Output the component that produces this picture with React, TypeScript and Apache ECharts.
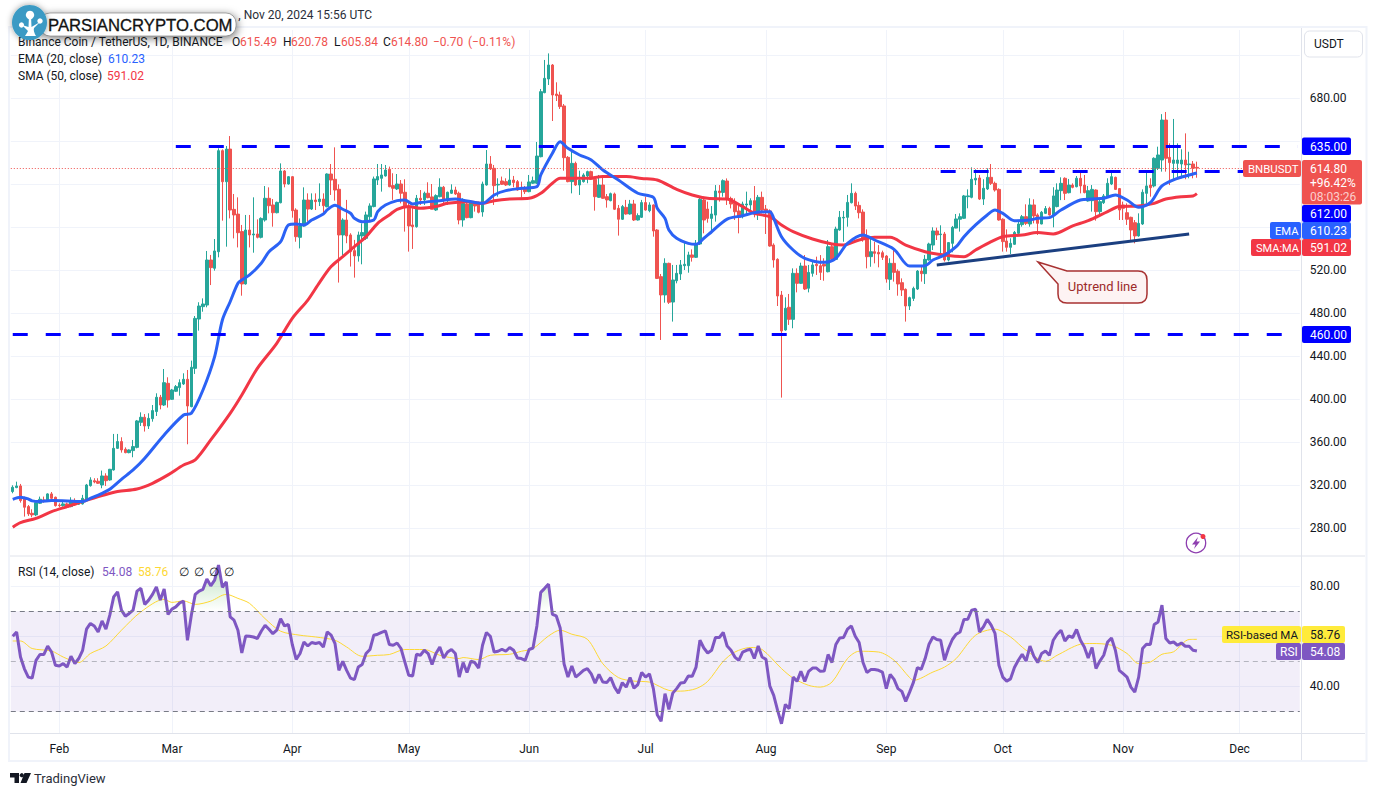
import React, { useEffect, useRef } from "react";
import * as echarts from "echarts";

const monthNames = ["Feb","Mar","Apr","May","Jun","Jul","Aug","Sep","Oct","Nov","Dec"];
const monthStarts = [12,41,72,102,133,163,194,225,255,286,316];
const dayCount = 332;

// [open, close, low, high]
const ohlc: number[][] = [
[313.9,317.9,312.3,319.7],[317.6,319.1,317,323.1],[319.1,305.5,303.6,321],[307.6,299.3,290.6,309.2],[299.9,293.1,291.2,301.4],[293.7,292.2,290,297.4],[292.2,303.6,291,304],[303,306.7,302.4,309.2],[306.1,305.2,303.6,309.2],[305.2,311.7,304.9,312.3],
[311.7,307.6,307,313.5],[308.6,300.8,299.9,309.2],[301.4,300.8,299.3,303],[300.8,302.4,299.9,305.5],[302.4,299.3,298.4,303.6],[299.9,305.5,299.3,308.6],[305.2,301.4,300.5,307.6],[302,303.6,301.4,305.2],[302.4,307.6,301.8,310.8],[306.7,320,306.1,321],
[319.4,324.7,318.5,327.2],[324,322.8,321.6,326.3],[323.5,321.6,321,326.3],[320,328.4,317,333.4],[328.4,324,319.1,330.9],[324.7,334.6,324,335],[334,354.1,333.4,367.5],[354.1,360.4,353.5,367.5],[360.4,352.6,350.1,364.4],[353.2,350.1,349.5,355],
[350.1,352.6,349.5,353.2],[352,355.7,345.8,361.9],[355,379.6,354.1,380.5],[378.3,383,374.9,387.6],[383,374.9,369.7,386],[374.9,382,372.1,386.7],[381.7,389.2,378.9,394.4],[388.3,401.6,384.2,405.3],[401.6,394.4,390.4,403.8],[394.4,415.2,393.5,427.9],
[414.6,399.1,392,420.2],[399.7,408.4,399.1,409.4],[407.2,411.5,406.5,413],[410.6,415.2,403.1,418.3],[414,418.3,413,423.9],[418.3,393.5,357.9,427],[392.9,429.5,392.3,435.7],[428.5,475,423.3,477.2],[474.4,486.5,463.6,490],[485.9,488.4,481.2,493.6],
[487.4,529.3,485.3,537.7],[529.3,522.2,506,534],[521.6,537.7,519.4,548.8],[537,631,531.8,633.2],[631,602.1,565.9,632.2],[602.1,632.5,541.7,635.3],[632.5,575.8,568,644.6],[576.4,571.2,549.4,590.7],[572,554.7,541,587.6],[555.7,507,496.1,561.9],
[507,557.2,506.4,571.2],[557.2,552.6,541,571.2],[552.6,553.5,536.1,587.6],[553.5,550.4,549.4,567.1],[550.4,568,549.4,569],[566.5,586.7,565,598.1],[586.7,579.8,572.7,596.9],[580.5,573.3,560.3,586],[573.3,582.9,572.7,583.6],[582.6,612.1,582,619.2],
[612.1,600,596.9,613],[600,606.8,599.4,607.4],[606.8,575.2,568.7,607.4],[575.8,551,546.3,577.4],[550.4,560.9,540.1,568],[560.9,585.1,560.3,596.9],[585.1,576.7,565,591.3],[576.7,585.1,575.8,591.3],[585.1,583.6,575.8,591.3],[583.6,586,579.5,600.6],
[586,579.8,571.2,591.3],[578.9,609.3,578.3,609.9],[609.3,603.7,589.8,618.6],[604.4,594.4,584.5,634.1],[595.1,552.6,508.3,599.7],[552.6,566.5,534,568.1],[566.5,551.7,544.9,585.2],[552.6,537.1,523.2,554.2],[538,533.1,512.9,548],[533.1,552.6,527.8,555.7],
[551.7,554.8,525.3,563.4],[549.5,571.2,548,574.3],[569.6,579.6,565,582],[579,604.7,578.3,606.9],[603.7,606.9,599.1,618.6],[605.3,608.4,592.9,618.6],[607.5,613,606.9,617.7],[613.7,597.5,597,616.2],[598.5,596,585.2,610],[595.4,600,594.4,609.3],
[600,591.4,582,603.7],[592.3,579,555.7,604.4],[579,561,537.1,583],[561.9,560.3,539.6,579],[560.3,586.7,559.4,589.8],[586.7,585.2,580.5,594.4],[585.2,591.4,580.5,592.9],[591.4,587.3,586.7,601.6],[588,576.5,576.5,600],[575.8,589.2,574.9,590.4],
[588.2,597,587.6,605.3],[597,585.2,582,598.2],[584.5,592.3,580.5,592.9],[591.4,594.4,590.7,599.7],[594.4,590.7,589.8,597.5],[591.4,566.5,562.5,592.9],[566.5,582,560.3,586.7],[581.4,568.7,568.1,584.5],[568.7,583.6,568.1,584.5],[582,579.6,574.3,583.6],
[581.4,573.7,572.7,583.6],[574,600,569.6,602.2],[599.1,618.6,598.5,631.6],[618.6,614,613,626],[614.6,598.5,580.5,617.7],[599.1,599.7,588.2,605.3],[602.8,599.7,599.1,606.9],[602.2,599.1,598.2,605.3],[599.1,603.7,598.5,614],[603.7,601.3,597,607.5],
[602.2,594.4,593.8,603.7],[596,595.1,587.3,602.2],[595.4,592.9,590.7,598.2],[592.9,601.9,592.3,608.4],[600.7,603.1,600,606.9],[600.7,626,600,639.1],[625.4,685.9,624.8,688.4],[685,698.3,684.4,715.4],[697.7,710.7,692.1,721.5],[710.7,682.8,658.6,711.6],
[683.7,682.2,677.2,694.6],[682.8,672,669.8,685.9],[672.6,624.5,612.4,674.4],[624.8,602.2,601.6,626],[602.2,619.2,591.3,630],[619.2,599.1,598.2,620.8],[599.1,603.7,589.8,612.4],[602.2,608.4,601.3,610],[607.5,611.5,600.7,612.4],[611.5,604.4,603.7,612.4],
[604.4,588.2,575.2,606.9],[587.6,599.1,587,608.4],[599.1,586.7,586.1,607.5],[588.2,585.2,578,590.7],[584.5,591,583.9,592],[590.7,576.5,575.8,592],[577.4,567.2,552,580.5],[567.2,579,566.5,580.5],[578.3,572.1,571.5,585.2],[572.1,581.4,571.5,585.2],
[581.4,566.5,565.6,585.2],[566.5,570.6,566,572.7],[569,582.7,568.4,585.2],[582.7,575.8,575.2,588.2],[575.2,580.5,573.7,583],[580.5,556.3,551,581],[557.2,512.2,511.6,558],[513.8,496.8,454.9,516.3],[496.8,526.2,489.6,530.9],[526.2,490,488.4,526.8],
[490.2,510.7,472,524.7],[510,516.9,507.6,524.7],[516.3,524.7,510.7,529.3],[524,525.3,520,545.4],[524,534,517.5,537],[534,531.8,527.8,539.2],[531.8,544.8,531.2,547.9],[544.2,585.7,543.3,588.2],[585.1,566.5,554.1,588.2],[576.7,568,564,583.6],
[568,572.1,554.1,579.5],[571.1,593.5,565,599],[593.5,591.9,583.6,599],[592.2,603.1,588.2,604.3],[602.8,585.7,580.5,605.2],[586.6,581.4,577.3,588.2],[582,574.2,566.5,586.7],[574.9,569,554.1,580.5],[569.6,581.4,568,583.6],[580.5,581.4,571.2,592.9],
[580.5,584.5,574.2,586.7],[584.5,572.7,569,598.1],[572.7,587.6,566.5,589.8],[587.6,575.8,572.7,592.9],[576.7,575.2,553.5,580.5],[574.9,542.3,541.7,576.4],[543.2,529.3,522.2,544.8],[529.9,495.8,486.5,530.9],[496.7,463.3,401.3,500.5],[464.2,484.4,463.6,494.6],
[485.3,474.1,468.9,497.7],[474.1,516.9,465.8,521.5],[516.9,507.6,499.2,521.5],[507.6,523.7,507,526.8],[523.7,502.3,501.4,533.9],[503,517.8,499.2,524.7],[516.9,524.7,513.8,527.8],[525.3,524,515.4,532.4],[524,517.8,510.7,533.9],[525.3,523.7,510,530.9],
[518.4,541.7,517.8,547.9],[541.7,529.9,528.7,543.2],[529.9,558.1,529.3,560.3],[557.2,569,556.6,574.9],[568.4,569,546.3,574.9],[569,582.9,560.3,589.8],[582.6,591.3,581.9,600.6],[591.3,579.5,575.8,592.9],[580.1,573.3,568,583.6],[573.9,549.4,546.3,576.4],
[550.4,532.4,521.5,557.8],[532.4,537,523,551],[537,535.5,526.2,546.3],[536.4,534.9,522.5,543.2],[536.1,531.8,529.3,538],[533,511.6,508.2,533.9],[511.3,526.2,501.4,530.9],[526.2,517.8,509.2,539.2],[518.8,507,496.1,520.6],[508.2,501.4,495.8,512.2],
[502,486.5,472,502.9],[486.5,494.3,482.8,495.2],[493.6,502.9,491.2,504.5],[502.3,519,501.4,520],[519,516.6,509.2,524.7],[516.6,529.9,507,533.9],[529.3,544.2,528.7,545.4],[543.2,556.3,538.6,559.7],[556.3,552.6,547.9,559.4],[552.9,553.5,535,561.6],
[553.5,529.3,527.8,555.4],[529.3,545.5,528,546],[544.8,559.7,536.5,561],[559,567.5,558.8,572.1],[567.2,569.6,555.7,572.7],[568.1,588.9,567.5,589.8],[588.2,588.9,577.4,595],[587.6,604.4,586.7,615.5],[603.7,605.3,599.1,613.7],[605.6,586,585.1,608.4],
[586,596,580.5,604.4],[595.4,606.2,594.4,614.6],[606.2,600.6,599.1,618.6],[600.6,594.4,592.9,602.2],[595,566.5,565.9,596],[567.2,546.4,537.1,568.1],[547,541.1,537.1,557.8],[541.1,544.8,534.9,549.5],[543.9,555,543.3,556.3],[554.1,562.8,552.6,565],
[562.2,569.6,560.3,571.2],[569.6,563.4,561.9,581.1],[562.8,580.5,560.3,586.7],[580.5,570.3,563.4,585.8],[571.2,563.4,552.6,572.7],[562.8,573.7,562.5,574.9],[572.7,577.1,572.1,579.5],[577.4,571.2,570.6,578.9],[571.2,588.9,559.7,597],[579,594.4,578.3,600.6],
[593.8,600.6,585,606.2],[605.3,591.3,585.1,606.2],[591.9,599,591.3,604.7],[599,596.9,596,600.6],[597.5,605.3,596.9,607.4],[605.3,598.2,591.3,612.4],[599,592,591.3,608.4],[584.2,593.8,583.6,598.2],[584.5,595,574.3,599],[594.4,574.3,565.9,595],
[574.3,583.6,571.2,585.1],[582.6,588.9,581.4,590.7],[588.2,600.6,587.6,605.3],[600,606.8,599,611.5],[606.2,595,594.4,606.8],[595.7,575.8,566.5,596.3],[580.5,577.4,566.5,583.6],[573.3,567.2,561.9,582],[569,557.2,548,569.6],[564,551.7,544.8,566.5],
[551.7,563.4,551,572.7],[562.8,592.3,561.9,595],[591.3,598.2,582,611.5],[599,596.6,588.2,605.3],[598.2,623.9,596.9,624.8],[614.6,627,613,634.7],[622.3,659.5,611.5,665],[659.5,623.9,611.5,667],[624.8,619.9,599,637.8],[619.2,622.3,604.4,660.5],
[619.2,622.3,605.3,637.8],[618.6,622.3,605.3,632.3],[622.3,617.7,604.4,647.1],[618,618.6,605.3,630],[618.6,614.6,605.3,621.4],[615.49,614.8,605.84,620.78],
];

// [day index, value] key points of the moving averages
const ema20: number[][] = [
[0,306.7],[2,308.6],[4,307],[5,305.2],[7,304.6],[10,305.5],[14,305.2],[18,304.6],[20,307.6],[23,312.3],[25,316],[28,325.3],[31,334],[34,344.9],[39,366.6],[44,385.1],[46,386.7],[49,408.4],[52,439.4],[54,473.5],[56,490.5],[58,507.6],[59,510.7],[61,515.4],[64,526.2],[66,537],[69,546.3],[71,561.9],[73,562.8],[75,561.9],[77,566.5],[80,572],
[81,575.9],[83,580.2],[85,576.5],[87,572.8],[88,568.1],[90,565],[93,566.5],[94,574.3],[96,580.5],[99,584.5],[101,585.2],[103,581.4],[105,582.7],[110,584.5],[114,586.1],[117,584.2],[121,582],[124,589.8],[127,593.8],[131,596],[135,597.5],[136,608.4],[139,628.6],[141,639.4],[143,633.2],[146,627],[149,622.4],[152,613],[156,603.7],[161,591.4],[165,587.6],
[166,577.4],[168,568],[169,557.2],[171,549.5],[174,544.8],[176,543.9],[178,549.5],[180,555.6],[184,567.4],[188,570.5],[191,573.3],[195,574.3],[196,568],[198,551],[201,538.6],[204,530.9],[209,527.1],[212,530.9],[215,544.8],[219,552.6],[222,547.9],[227,539.2],[231,523.7],[235,524],
[237,529.3],[240,534],[243,541.7],[245,551],[248,561.9],[251,571.2],[253,575.8],[255,572.7],[258,565.9],[262,566.5],[264,568.1],[267,568.7],[270,575.8],[275,585.1],[278,586],[281,586.7],[284,589.8],[287,585.1],[290,578.3],[293,582.6],[296,598.2],[300,605.3],[304,609.3],[305,610.23],
];
const sma50: number[][] = [
[0,280.7],[2,285],[6,289],[10,295.2],[14,299.9],[18,304.6],[23,310.1],[27,313.9],[32,316.3],[36,321.6],[40,329.4],[44,338.6],[47,343.3],[51,361.9],[56,386.7],[59,403.8],[63,428.5],[68,451.8],[72,475],[76,492],[79,508.3],[82,523.2],[85,532.4],[88,541.7],[91,551],[94,563.4],[97,571.2],[99,576.5],[102,579],[105,577.4],[109,579],[112,582],[117,583.6],[121,582],[124,584.5],[128,586.1],[133,586.7],[136,591.4],[139,600.7],[141,605.3],[145,605.3],[148,605.3],[152,606.9],[158,606.9],[162,605.2],[166,603.7],[171,595],[175,589.8],[179,586.7],[184,586],[188,578.9],[191,572.7],[195,569.6],[198,561.9],[201,555.7],[206,548.8],[211,544.2],[214,543.2],[218,547.9],[222,550.4],[226,550.4],[230,543.2],[235,537],[238,534.9],[245,532.4],[248,538.6],[252,546.4],[255,551],[260,552.6],[264,554.8],[268,553.5],[273,561],[277,565.9],[282,574.3],[285,579],[290,579.6],[294,582],[297,586],[301,588.2],[304,588.9],[305,591.02],
];
const rsi14: number[] = [
60,61.7,51.7,47,43.7,43.3,50.4,52.7,52.7,56.1,53.7,48.4,48.1,49.1,47.7,52,49.1,51.1,54.4,62.8,
65.1,64.1,61.7,66.1,62.8,68.4,75.7,77.7,70.4,68,69.1,70.4,78,79.1,72.7,74.4,76.7,79.7,74.4,78.8,
68.7,70.8,71.7,73.3,74,58.4,68.4,76.7,78,78.7,82.8,80.1,82.4,88.4,79.5,81.7,67.7,66.4,62.4,53.3,
60.1,60,59.7,59.1,62,64.4,62.8,61,62.4,67,64.1,64.7,56.7,50.8,53.1,57.7,56.1,57.5,57.1,57.5,
55.7,61.7,60.4,57.1,46.4,50,46.4,43.3,42.7,47.7,48.7,53.1,54.7,60.4,60.8,61.5,62.1,56.7,56.4,57.3,
55.1,49.7,44.4,44.1,52.8,52.4,54.4,53.1,48.7,53.1,55.7,51.3,53.7,54.7,53.1,43.7,49.5,45.5,50,49.5,
47.3,56.4,61.5,60,53.7,54,54.8,54,55.5,54.4,51.3,51.1,50.4,54.7,55.3,64.1,77.5,79.1,80.8,68.7,
68.1,63.3,49,43.7,48.1,43.7,45,46.4,47.1,45,41.3,44.8,41.7,41.5,43.5,39.7,37.3,41.5,39.7,43.5,
39.3,40.7,45.5,43.7,45,39.1,28.7,26.1,37.1,30.8,37.3,39.1,41.3,41.5,44.1,44,47.7,58.4,55.3,53.3,
54.4,59.5,59.5,61.5,56.1,54.4,51.7,50.4,53.7,54.4,54.8,51.1,56.1,51.7,50.8,40.1,36.4,30.4,25.1,32.8,
31.1,43.7,42,46,42,46,47.3,47.3,46,46.1,52.7,49.5,56.7,59.3,59.5,62.8,64.1,60,57.5,49.5,
45.5,46.7,46.7,46.4,45.7,39.1,44.8,42.8,39.1,38,34,37.7,41.7,47.5,46.8,51.1,56.8,59.7,58.7,58.4,
50.4,55.1,58.7,60.8,61.7,66.7,66.8,70.4,70.8,61.7,63.7,66.7,64.4,61.1,48.4,43.7,42.1,43,47.5,50.4,
52.8,50.1,56.1,52,49.5,53.1,54.1,52.4,58.4,60.8,62.4,58.1,60.1,59.5,62.7,58.4,55.7,51.3,55.5,47.1,
50.1,52.4,57.7,59.3,54.4,46.4,45.1,43.7,39.7,37.7,43.7,55.1,56.8,56.7,64.7,65.7,72.4,59.1,57.3,57.7,
56.4,57.3,56,56,54.4,54.08,
];
const rsiMa: number[][] = [
[0,58.1],[2,58.1],[5,55.1],[10,54.1],[13,51.7],[17,49.5],[20,53.1],[24,56.1],[28,62.4],[33,69.7],[39,74.7],[41,73.5],[44,74.1],[47,72.7],[51,74],[55,76.7],[58,75.1],[61,73.1],[65,67],[69,62],[74,60.4],[78,59.7],[83,58.4],[86,55.7],[90,52],[94,52.4],[97,52.7],[101,54.7],[106,54.7],[110,52.4],[115,51.1],[116,51.5],[120,50.7],[123,52.4],[128,52.8],[131,54],[134,55.1],[138,60.1],[141,62.4],[144,60.8],[148,58.8],[152,49],[156,43.5],[160,42.1],[164,41.7],[169,38.4],[172,38.1],[176,39.1],[179,42],[183,50],[186,53.7],[190,55.5],[193,54.7],[198,47.1],[201,43.3],[205,40.4],[208,39.7],[211,41.7],[215,51.1],[218,54],[223,53.7],[227,50.4],[231,43.5],[232,42.4],[237,45.7],[240,47.7],[243,51.1],[248,60.4],[253,62.8],[257,59.7],[261,54.4],[266,50],[269,52.4],[275,56.8],[278,57.1],[283,56.4],[287,53.1],[290,49.1],[293,49.7],[296,52.8],[299,53.8],[303,58.7],[305,58.76],
];

const priceTicks = [280,320,360,400,440,480,520,560,600,640,680,720];
const priceLabels = [280,320,360,400,440,480,520,680];
const rsiTicks = [40,60,80];
const rsiLabels = [40,80];
const rsiBands = [70,50,30];
const levels = [
  { price: 635, from: 42 },
  { price: 612, from: 239 },
  { price: 460, from: 0 },
];
const trendLine = [[238, 524.7],[303, 553.5]];
const lastPrice = 614.8;

const F = "Roboto, sans-serif";
const categories: string[] = [];
for (let i = 0; i < dayCount; i++) {
  const d = new Date(Date.UTC(2024, 0, 20 + i));
  categories.push(d.toISOString().slice(0, 10));
}

echarts.graphic.registerShape("callout", echarts.graphic.extendPath(
  "M1038 262 L1067 271 L1138 271 Q1147 271 1147 280 L1147 294 Q1147 303 1138 303 L1067 303 Q1058 303 1058 294 L1058 284 Z", {}));
echarts.graphic.registerShape("tvT", echarts.graphic.extendPath(
  "M10 773 L19 773 L19 783 L14.5 783 L14.5 777.5 L10 777.5 Z M24.5 773 L31 773 L26.5 783 L20.5 783 Z", {}));
echarts.graphic.registerShape("logoTree", echarts.graphic.extendPath(
  "M25 36 L36 36 Q33 31 34 28 L40 22 L31.5 27 L31 16 L29 16 L28.5 27 L22 25 L28 31 Q27 33 25 36 Z", {}));
echarts.graphic.registerShape("bolt", echarts.graphic.extendPath(
  "M1198 537 L1192 544.5 L1195.5 544.5 L1194 549 L1200 541.5 L1196.5 541.5 Z", {}));

const T = (x: number, y: number, text: string, fill: string, extra: any = {}) => ({
  type: "text", x, y, z: 110, silent: true,
  style: { text, fill, fontFamily: F, fontSize: 12, verticalAlign: "middle", align: "left", ...extra },
});
const R = (x: number, y: number, w: number, h: number, fill: string, r: any = 2, z = 105) => ({
  type: "rect", z, silent: true, shape: { x, y, width: w, height: h, r }, style: { fill },
});

const dark = "#131722";
const red = "#ef5350";
const smaRed = "#f23645";
const blue = "#2962ff";
const purple = "#7e57c2";
const yellow = "#ffeb3b";
const levelBlue = "#0000ff";

const graphicElements: any[] = [
  { type: "rect", z: 1, silent: true, shape: { x: 9, y: 27, width: 1357.5, height: 734 }, style: { fill: "none", stroke: "#f0f3fa", lineWidth: 2 } },
  { type: "line", z: 1, silent: true, shape: { x1: 1301.5, y1: 28, x2: 1301.5, y2: 760 }, style: { stroke: "#e0e3eb", lineWidth: 1 } },
  { type: "line", z: 1, silent: true, shape: { x1: 10, y1: 556, x2: 1365, y2: 556 }, style: { stroke: "#e0e3eb", lineWidth: 1 } },
  { type: "line", z: 1, silent: true, shape: { x1: 10, y1: 733.5, x2: 1365, y2: 733.5 }, style: { stroke: "#e0e3eb", lineWidth: 1 } },

  // header and legends
  T(372, 15, ", Nov 20, 2024 15:56 UTC", "#2a2e39", { align: "right" }),
  T(18, 42, "Binance Coin / TetherUS, 1D, BINANCE", dark),
  T(232, 42, "O", dark), T(240, 42, "615.49", red),
  T(283, 42, "H", dark), T(291, 42, "620.78", red),
  T(334, 42, "L", dark), T(341, 42, "605.84", red),
  T(383, 42, "C", dark), T(391, 42, "614.80", red),
  T(433, 42, "\u22120.70", red), T(468, 42, "(\u22120.11%)", red),
  T(18, 59, "EMA (20, close)", dark), T(108, 59, "610.23", blue),
  T(18, 76, "SMA (50, close)", dark), T(107, 76, "591.02", smaRed),
  T(18, 572, "RSI (14, close)", dark), T(102, 572, "54.08", purple), T(138, 572, "58.76", "#fdd835"),
  T(179, 572, "\u2205", dark), T(194, 572, "\u2205", dark), T(209, 572, "\u2205", dark), T(224, 572, "\u2205", dark),

  // logo
  { type: "rect", z: 120, silent: true, shape: { x: 40, y: 13, width: 196, height: 23, r: 10 }, style: { fill: "#fff", stroke: "#555", lineWidth: 0.5, shadowBlur: 8, shadowColor: "rgba(0,0,0,0.55)", shadowOffsetX: 1, shadowOffsetY: 2 } },
  { type: "circle", z: 121, silent: true, shape: { cx: 29.5, cy: 22.5, r: 17.5 }, style: { fill: "#3a9ac4", shadowBlur: 6, shadowColor: "rgba(0,0,0,0.4)" } },
  { type: "logoTree", z: 122, silent: true, x: 0, y: 0, style: { fill: "#fff" } },
  { type: "circle", z: 122, silent: true, shape: { cx: 30, cy: 15, r: 4.2 }, style: { fill: "#fff" } },
  { type: "circle", z: 122, silent: true, shape: { cx: 40, cy: 21, r: 2.7 }, style: { fill: "#fff" } },
  { type: "circle", z: 122, silent: true, shape: { cx: 21.5, cy: 25, r: 2.6 }, style: { fill: "#fff" } },
  { type: "text", z: 122, silent: true, x: 48, y: 25, style: { text: "PARSIANCRYPTO.COM", fill: "#111", stroke: "#111", lineWidth: 0.3, fontFamily: "'Liberation Sans', sans-serif", fontSize: 16.7, verticalAlign: "middle", align: "left" } },

  // USDT button
  { type: "rect", z: 104, silent: true, shape: { x: 1304.5, y: 31, width: 58, height: 26, r: 5 }, style: { fill: "#fff", stroke: "#e0e3eb", lineWidth: 1 } },
  T(1314, 44, "USDT", dark),

  // price scale tags
  R(1302, 137.5, 49, 17.5, levelBlue), T(1310, 146.5, "635.00", "#fff"),
  R(1302, 205, 49, 17, levelBlue), T(1310, 214, "612.00", "#fff"),
  R(1302, 326, 49, 17, levelBlue), T(1310, 335, "460.00", "#fff"),
  R(1243, 160, 58, 17, red), T(1248, 169, "BNBUSDT", "#fff", { fontSize: 11.4 }),
  R(1302, 160, 60, 44.5, red), T(1310, 169, "614.80", "#fff"), T(1310, 183, "+96.42%", "#fff"), T(1310, 197, "08:03:26", "rgba(255,255,255,0.72)"),
  R(1270, 222, 31, 17, blue), T(1275, 231, "EMA", "#fff", { fontSize: 11.2 }),
  R(1302, 222, 49, 17, blue), T(1310, 231, "610.23", "#fff"),
  R(1251, 239, 50, 17, smaRed), T(1256, 248, "SMA:MA", "#fff", { fontSize: 11 }),
  R(1302, 239, 49, 17, smaRed), T(1310, 248, "591.02", "#fff"),
  R(1222, 626, 79, 17, yellow), T(1226, 635, "RSI-based MA", dark, { fontSize: 11.5 }),
  R(1302, 626, 43, 17, yellow), T(1310, 635, "58.76", dark),
  R(1276, 643, 25, 17, purple), T(1280, 652, "RSI", "#fff"),
  R(1302, 643, 43, 17, purple), T(1310, 652, "54.08", "#fff"),

  // callout
  { type: "callout", z: 106, silent: true, x: 0, y: 0, style: { fill: "#fdf3f3", stroke: "#a83232", lineWidth: 1.5 } },
  T(1102.5, 286, "Uptrend line", "#9c2a2a", { align: "center", fontSize: 13 }),

  // flash icon
  { type: "circle", z: 106, silent: true, shape: { cx: 1196, cy: 543, r: 9.7 }, style: { fill: "#fff", stroke: "#8e3fb0", lineWidth: 1.3 } },
  { type: "bolt", z: 107, silent: true, x: 0, y: 0, style: { fill: "#8e3fb0" } },
  { type: "circle", z: 108, silent: true, shape: { cx: 1203, cy: 536.5, r: 2.5 }, style: { fill: smaRed } },

  // TradingView mark
  { type: "tvT", z: 106, silent: true, x: 0, y: 0, style: { fill: dark } },
  { type: "circle", z: 106, silent: true, shape: { cx: 21.8, cy: 775.2, r: 2.1 }, style: { fill: dark } },
  T(34, 778, "TradingView", "#2a2e39", { fontSize: 13 }),
];

export default function App() {
  const ref = useRef<HTMLDivElement>(null);
  useEffect(() => {
    document.body.style.margin = "0";
    const chart = echarts.init(ref.current!, undefined, { renderer: "svg" });
    const gridLeft = 10.8, gridWidth = 1289;
    const monthSplit = {
      show: true,
      alignWithLabel: true,
      interval: (i: number) => monthStarts.includes(i),
      lineStyle: { color: "#f0f3fa", width: 1 },
    };
    const overBase = rsi14.map((v) => (v > 70 ? 70 : null));
    const overFill = rsi14.map((v) => (v > 70 ? v - 70 : null));
    chart.setOption({
      animation: false,
      backgroundColor: "#ffffff",
      textStyle: { fontFamily: F },
      grid: [
        { left: gridLeft, width: gridWidth, top: 30, height: 526 },
        { left: gridLeft, width: gridWidth, top: 556, height: 177.5 },
      ],
      xAxis: [
        { type: "category", gridIndex: 0, data: categories, boundaryGap: true,
          axisLine: { show: false }, axisTick: { show: false, alignWithLabel: true, interval: (i: number) => monthStarts.includes(i) },
          axisLabel: { show: false, interval: (i: number) => monthStarts.includes(i) }, splitLine: monthSplit },
        { type: "category", gridIndex: 1, data: categories, boundaryGap: true,
          axisLine: { show: false }, axisTick: { show: false, alignWithLabel: true, interval: (i: number) => monthStarts.includes(i) },
          axisLabel: { show: true, margin: 9, color: dark, fontSize: 12, fontFamily: F,
            interval: (i: number) => monthStarts.includes(i),
            formatter: (_: string, i: number) => monthNames[monthStarts.indexOf(i)] ?? "" },
          splitLine: monthSplit },
      ],
      yAxis: [
        { type: "value", gridIndex: 0, position: "right", offset: 1.9, min: 253.95, max: 743.26, scale: true,
          axisLine: { show: false },
          axisTick: { show: false, customValues: priceTicks },
          axisLabel: { color: dark, fontSize: 12, fontFamily: F, margin: 8, customValues: priceLabels, formatter: (v: number) => v.toFixed(2) },
          splitLine: { show: true, lineStyle: { color: "#f0f3fa", width: 1 } } },
        { type: "value", gridIndex: 1, position: "right", offset: 1.9, min: 21.2, max: 92, scale: true,
          axisLine: { show: false },
          axisTick: { show: false, customValues: rsiTicks },
          axisLabel: { color: dark, fontSize: 12, fontFamily: F, margin: 8, customValues: rsiLabels, formatter: (v: number) => v.toFixed(2) },
          splitLine: { show: true, lineStyle: { color: "#f0f3fa", width: 1 } } },
      ],
      series: [
        { type: "candlestick", name: "BNBUSDT", xAxisIndex: 0, yAxisIndex: 0, z: 2, barWidth: 3, data: ohlc,
          itemStyle: { color: "#26a69a", color0: red, borderColor: "#26a69a", borderColor0: red, borderWidth: 1 },
          markLine: { silent: true, symbol: "none", label: { show: false }, animation: false,
            lineStyle: { color: red, type: [1, 2], width: 1 },
            data: [{ yAxis: lastPrice }] } },
        { type: "line", name: "SMA", xAxisIndex: 0, yAxisIndex: 0, z: 3, data: sma50, smooth: 0.3, symbol: "none",
          lineStyle: { color: smaRed, width: 3 } },
        { type: "line", name: "EMA", xAxisIndex: 0, yAxisIndex: 0, z: 4, data: ema20, smooth: 0.3, symbol: "none",
          lineStyle: { color: "#2b62f5", width: 3 } },
        { type: "line", name: "Levels", xAxisIndex: 0, yAxisIndex: 0, z: 5, data: [], symbol: "none",
          markLine: { silent: true, symbol: "none", label: { show: false }, animation: false,
            lineStyle: { color: levelBlue, type: [15, 18], width: 3 },
            data: levels.map((l) => [{ coord: [l.from, l.price] }, { coord: [dayCount - 1, l.price] }]) } },
        { type: "line", name: "Uptrend", xAxisIndex: 0, yAxisIndex: 0, z: 5, data: trendLine, symbol: "none",
          lineStyle: { color: "#1b3f80", width: 3 } },
        { type: "line", name: "OverBase", xAxisIndex: 1, yAxisIndex: 1, z: 2, stack: "over", data: overBase, symbol: "none",
          lineStyle: { width: 0, opacity: 0 }, connectNulls: false },
        { type: "line", name: "OverFill", xAxisIndex: 1, yAxisIndex: 1, z: 2, stack: "over", data: overFill, symbol: "none",
          lineStyle: { width: 0, opacity: 0 }, connectNulls: false,
          areaStyle: { opacity: 1, color: new echarts.graphic.LinearGradient(0, 564, 0, 611, [
            { offset: 0, color: "rgba(76,175,80,0.38)" }, { offset: 1, color: "rgba(76,175,80,0)" }], true as any) } },
        { type: "line", name: "RSI-based MA", xAxisIndex: 1, yAxisIndex: 1, z: 3, data: rsiMa, smooth: 0.3, symbol: "none",
          lineStyle: { color: "#fdd835", width: 1 } },
        { type: "line", name: "RSI", xAxisIndex: 1, yAxisIndex: 1, z: 4, data: rsi14, symbol: "none",
          lineStyle: { color: purple, width: 3 },
          markArea: { silent: true, itemStyle: { color: "rgba(126,87,194,0.1)" }, data: [[{ yAxis: 70 }, { yAxis: 30 }]] },
          markLine: { silent: true, symbol: "none", label: { show: false }, animation: false,
            data: rsiBands.map((v) => ({ yAxis: v, lineStyle: { color: v === 50 ? "rgba(120,123,134,0.5)" : "#787b86", type: [5, 4], width: 1 } })) } },
      ],
      graphic: { elements: graphicElements },
    });
    return () => chart.dispose();
  }, []);
  return <div ref={ref} style={{ position: "fixed", left: 0, top: 0, width: 1377, height: 796, overflow: "hidden" }} />;
}
